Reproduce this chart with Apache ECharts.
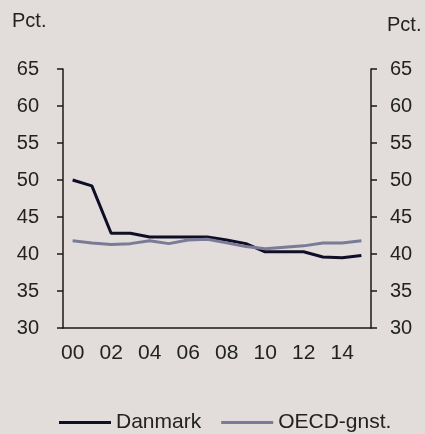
<!DOCTYPE html>
<html>
<head>
<meta charset="utf-8">
<script src="https://cdn.jsdelivr.net/npm/echarts@6/dist/echarts.min.js"></script>
<style>
  html, body { margin: 0; padding: 0; background: #e2dcdb; }
  #chart { width: 425px; height: 434px; }
</style>
</head>
<body>
<div id="chart"></div>
<script>
  // years 2000-2015
  var years = ['00', '01', '02', '03', '04', '05', '06', '07', '08', '09', '10', '11', '12', '13', '14', '15'];
  var danmark = [50.0, 49.2, 42.8, 42.8, 42.3, 42.3, 42.3, 42.3, 41.9, 41.4, 40.3, 40.3, 40.3, 39.6, 39.5, 39.8];
  var oecd = [41.8, 41.5, 41.3, 41.4, 41.8, 41.4, 41.9, 42.0, 41.5, 41.0, 40.7, 40.9, 41.1, 41.5, 41.5, 41.8];
  var unitLabel = 'Pct.';

  var font = 'Liberation Sans, Arial, sans-serif';
  var axisColor = '#1a1a1a';
  var textColor = '#222222';

  var myChart = echarts.init(document.getElementById('chart'));

  function valueAxis(pos) {
    return {
      type: 'value',
      position: pos,
      min: 30,
      max: 65,
      interval: 5,
      splitLine: { show: false },
      axisLine: { show: true, lineStyle: { color: axisColor, width: 1.5 } },
      axisTick: { show: true, length: 6, lineStyle: { color: axisColor, width: 1.5 } },
      axisLabel: {
        color: textColor,
        fontFamily: font,
        fontSize: 20,
        margin: pos === 'left' ? 24 : 19
      }
    };
  }

  var option = {
    backgroundColor: '#e2dcdb',
    animation: false,
    grid: {
      left: 63,
      right: 54,
      top: 69,
      bottom: 106
    },
    graphic: [{
      type: 'text',
      left: 12,
      top: 11,
      style: { text: unitLabel, fill: textColor, font: '20px ' + font }
    }, {
      type: 'text',
      left: 387,
      top: 15,
      style: { text: unitLabel, fill: textColor, font: '20px ' + font }
    }],
    legend: {
      left: 54,
      top: 407,
      icon: 'rect',
      itemWidth: 52,
      itemHeight: 3,
      itemGap: 20,
      textStyle: { color: textColor, fontFamily: font, fontSize: 21 },
      data: ['Danmark', 'OECD-gnst.']
    },
    xAxis: {
      type: 'category',
      boundaryGap: true,
      data: years,
      axisLine: { show: true, lineStyle: { color: axisColor, width: 1.5 } },
      axisTick: { show: false },
      axisLabel: {
        interval: 1,
        color: textColor,
        fontFamily: font,
        fontSize: 21,
        margin: 15
      }
    },
    yAxis: [valueAxis('left'), valueAxis('right')],
    series: [{
      name: 'Danmark',
      type: 'line',
      symbol: 'none',
      data: danmark,
      lineStyle: { color: '#0e0e26', width: 3 },
      itemStyle: { color: '#0e0e26' }
    }, {
      name: 'OECD-gnst.',
      type: 'line',
      symbol: 'none',
      data: oecd,
      lineStyle: { color: '#7b7b98', width: 3 },
      itemStyle: { color: '#7b7b98' }
    }]
  };

  myChart.setOption(option);
</script>
</body>
</html>
